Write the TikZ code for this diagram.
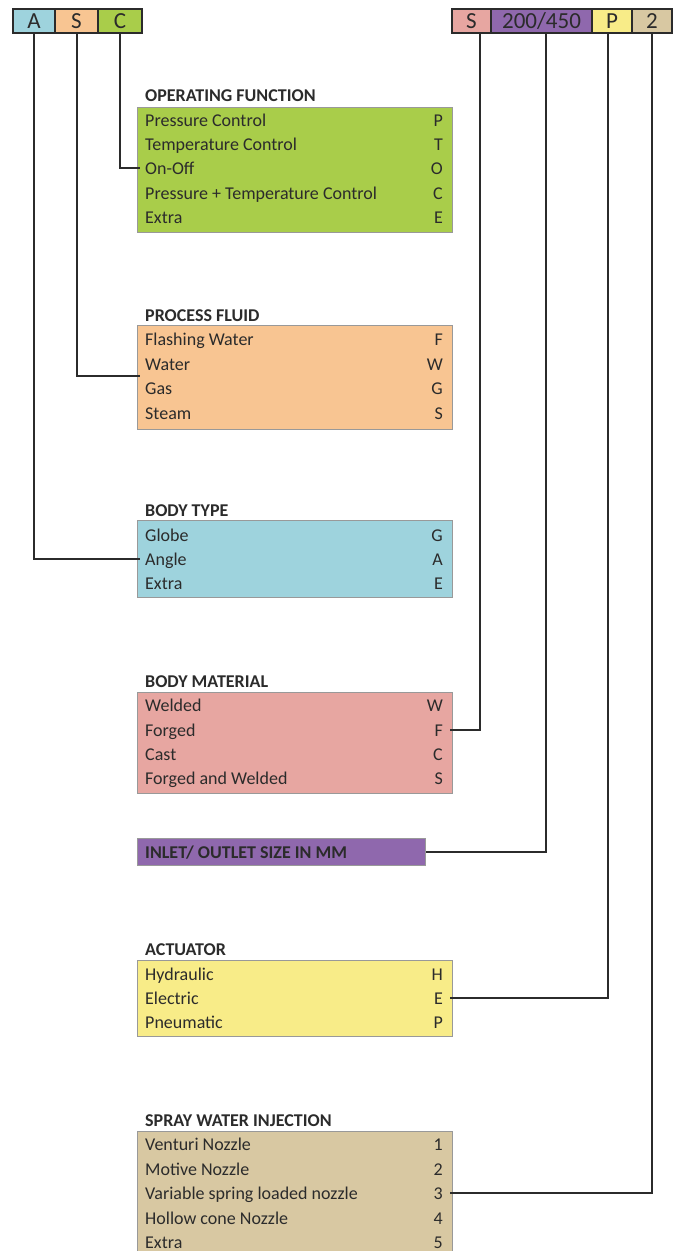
\documentclass[tikz,border=0pt]{standalone}
\usepackage{fontspec}
\setmainfont{Carlito}
\usetikzlibrary{calc}
\definecolor{ocBlue}{HTML}{9ED3DD}
\definecolor{ocOrange}{HTML}{F8C592}
\definecolor{ocGreen}{HTML}{A9CD4A}
\definecolor{ocPink}{HTML}{E7A6A1}
\definecolor{ocPurple}{HTML}{8F68AD}
\definecolor{ocYellow}{HTML}{F8EC88}
\definecolor{ocTan}{HTML}{D8C8A2}
\definecolor{ocInk}{HTML}{2B2B2B}

\begin{document}
\begin{tikzpicture}[x=1pt,y=-1pt,
  code/.style={draw=ocInk, line width=1.2pt, minimum height=24, inner sep=0pt,
               font=\fontsize{23}{23}\selectfont, text=ocInk},
  panel/.style={draw=black!40, line width=0.8pt, anchor=north west, minimum width=315,
                inner sep=0pt, path picture={\draw[ocInk, line width=1.6pt]
                (path picture bounding box.north west) -- (path picture bounding box.south west)
                -- (path picture bounding box.south east);}},
  head/.style={anchor=west, inner sep=0pt, yshift=-1pt,
               font=\fontsize{18}{18}\selectfont\bfseries, text=ocInk},
  item/.style={anchor=west, inner sep=0pt, text height=14, text depth=2,
               font=\fontsize{18}{18}\selectfont, text=ocInk},
  key/.style={item, anchor=east},
  link/.style={draw=ocInk, line width=2pt}]

  \useasboundingbox (0,0) rectangle (678,1251);

  % code boxes
  \node[code, fill=ocBlue,   minimum width=42] (cA) at (34,21) {A};
  \node[code, fill=ocOrange, minimum width=43] (cS) at (76.5,21) {S};
  \node[code, fill=ocGreen,  minimum width=44] (cC) at (120,21) {C};
  \node[code, fill=ocPink,   minimum width=39] (cM) at (471.5,21) {S};
  \node[code, fill=ocPurple, minimum width=101] (cD) at (541.5,21) {200/450};
  \node[code, fill=ocYellow, minimum width=40] (cP) at (612,21) {P};
  \node[code, fill=ocTan,    minimum width=40] (cN) at (652,21) {2};

  % operating function
  \node[head] (hOp) at (145,95) {OPERATING FUNCTION};
  \node[panel, fill=ocGreen, minimum height=125] (op) at (137,107) {};
  \node[item] (press) at (145,120) {Pressure Control};    \node[key] at (443,120) {P};
  \node[item] (temp)  at (145,144) {Temperature Control}; \node[key] at (443,144) {T};
  \node[item] (onoff) at (145,168) {On-Off};              \node[key] at (443,168) {O};
  \node[item] (ptc)   at (145,193) {Pressure + Temperature Control}; \node[key] at (443,193) {C};
  \node[item] (opx)   at (145,217) {Extra};               \node[key] at (443,217) {E};

  % process fluid
  \node[head] (hFl) at (145,315) {PROCESS FLUID};
  \node[panel, fill=ocOrange, minimum height=104] (fl) at (137,325) {};
  \node[item] (flash) at (145,339) {Flashing Water}; \node[key] at (443,339) {F};
  \node[item] (water) at (145,364) {Water};          \node[key] at (443,364) {W};
  \node[item] (gas)   at (145,388) {Gas};            \node[key] at (443,388) {G};
  \node[item] (steam) at (145,413) {Steam};          \node[key] at (443,413) {S};
  \coordinate (wg) at ($(water.west)!.5!(gas.west)$);

  % body type
  \node[head] (hBt) at (145,510) {BODY TYPE};
  \node[panel, fill=ocBlue, minimum height=77] (bt) at (137,520) {};
  \node[item] (globe) at (145,535) {Globe}; \node[key] at (443,535) {G};
  \node[item] (angle) at (145,559) {Angle}; \node[key] at (443,559) {A};
  \node[item] (btx)   at (145,583) {Extra}; \node[key] at (443,583) {E};

  % body material
  \node[head] (hMa) at (145,681) {BODY MATERIAL};
  \node[panel, fill=ocPink, minimum height=101] (ma) at (137,692) {};
  \node[item] (weld)  at (145,705) {Welded};             \node[key] at (443,705) {W};
  \node[item] (forg)  at (145,730) {Forged};             \node[key] (forgK) at (443,730) {F};
  \node[item] (cast)  at (145,754) {Cast};               \node[key] at (443,754) {C};
  \node[item] (fw)    at (145,778) {Forged and Welded};  \node[key] at (443,778) {S};

  % size
  \node[panel, fill=ocPurple, minimum width=288, minimum height=27] (inl) at (137,838) {};
  \node[head] at (145,852) {INLET/ OUTLET SIZE IN MM};

  % actuator
  \node[head] (hAc) at (145,949) {ACTUATOR};
  \node[panel, fill=ocYellow, minimum height=76] (ac) at (137,960) {};
  \node[item] (hyd)  at (145,974) {Hydraulic};  \node[key] at (443,974) {H};
  \node[item] (elec) at (145,998) {Electric};   \node[key] at (443,998) {E};
  \node[item] (pneu) at (145,1022) {Pneumatic}; \node[key] at (443,1022) {P};

  % spray water injection
  \node[head] (hSp) at (145,1120) {SPRAY WATER INJECTION};
  \node[panel, fill=ocTan, minimum height=125] (sp) at (137,1131) {};
  \node[item] (vent)  at (145,1144) {Venturi Nozzle};               \node[key] at (443,1144) {1};
  \node[item] (motv)  at (145,1169) {Motive Nozzle};                \node[key] at (443,1169) {2};
  \node[item] (varsp) at (145,1193) {Variable spring loaded nozzle}; \node[key] at (443,1193) {3};
  \node[item] (holl)  at (145,1218) {Hollow cone Nozzle};           \node[key] at (443,1218) {4};
  \node[item] (spx)   at (145,1242) {Extra};                        \node[key] at (443,1242) {5};

  % links
  \draw[link] (cC.south) |- ($(op.west |- onoff)+(3,0)$);
  \draw[link] (cS.south) |- ($(fl.west |- wg)+(3,0)$);
  \draw[link] (cA.south) |- ($(bt.west |- angle)+(3,0)$);
  \draw[link] ($(cM.south)+(8.5,0)$) |- ($(ma.east |- forg)+(-3,0)$);
  \draw[link] ($(cD.south)+(4.5,0)$) |- (inl.east);
  \draw[link] ($(cP.south)+(-4,0)$) |- ($(ac.east |- elec)+(-3,0)$);
  \draw[link] (cN.south) |- ($(sp.east |- varsp)+(-3,0)$);
\end{tikzpicture}
\end{document}
